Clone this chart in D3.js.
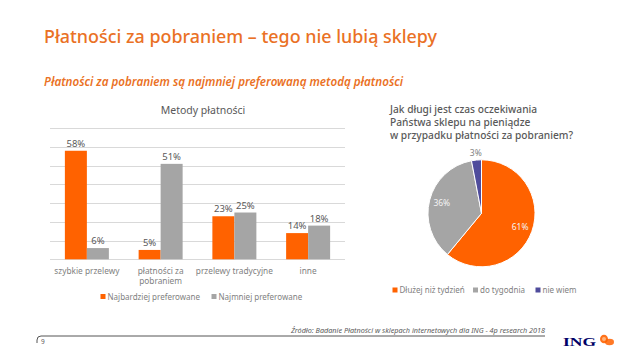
<!DOCTYPE html>
<html><head><meta charset="utf-8">
<script src="https://cdn.jsdelivr.net/npm/d3@7"></script>
<style>
html,body{margin:0;padding:0;background:#fff;}
svg{display:block;font-family:"Noto Sans","Open Sans",sans-serif;}
</style></head>
<body>
<svg id="c" width="638" height="359"></svg>
<script>
// ---- data ----
const mainTitle = "Płatności za pobraniem – tego nie lubią sklepy";
const subTitle = "Płatności za pobraniem są najmniej preferowaną metodą płatności";
const barTitle = "Metody płatności";
const categories = ["szybkie przelewy", "płatności za\npobraniem", "przelewy tradycyjne", "inne"];
const seriesNames = ["Najbardziej preferowane", "Najmniej preferowane"];
const mostPreferred = [58, 5, 23, 14];
const leastPreferred = [6, 51, 25, 18];
const yTicks = [0, 10, 20, 30, 40, 50, 60, 70];
const pieQuestion = ["Jak długi jest czas oczekiwania", "Państwa sklepu na pieniądze", "w przypadku płatności za pobraniem?"];
const pieLabels = ["Dłużej niż tydzień", "do tygodnia", "nie wiem"];
const pieValues = [61, 36, 3];
const sourceText = "Źródło: Badanie Płatności w sklepach internetowych dla ING - 4p research 2018";
const pageNumber = "9";

// ---- styles ----
const ORANGE = "#FF6200", GRAY = "#A5A5A5", NAVY = "#4F4C9C";
const TITLE_ORANGE = "#EA7125", TEXT = "#595959", LIGHT = "#7F7F7F";

const svg = d3.select("#c");

// titles
svg.append("text").attr("x", 44).attr("y", 43).attr("fill", TITLE_ORANGE)
  .attr("font-size", 18.5).attr("font-weight", 500)
  .attr("textLength", 393).attr("lengthAdjust", "spacingAndGlyphs").text(mainTitle);
svg.append("text").attr("x", 44).attr("y", 86).attr("fill", TITLE_ORANGE)
  .attr("font-size", 12.5).attr("font-style", "italic").attr("font-weight", 600)
  .attr("textLength", 359).attr("lengthAdjust", "spacingAndGlyphs").text(subTitle);

// ---- bar chart ----
const x0 = d3.scaleBand().domain(categories).range([50, 345]).padding(0);
const x1 = d3.scaleBand().domain(seriesNames).range([0, x0.bandwidth()]).paddingInner(0).paddingOuter(0.676);
const y = d3.scaleLinear().domain([0, 70]).range([259.3, 128.3]);
const colors = d3.scaleOrdinal().domain(seriesNames).range([ORANGE, GRAY]);

svg.append("text").attr("x", 203).attr("y", 114).attr("text-anchor", "middle")
  .attr("fill", TEXT).attr("font-size", 10.5).text(barTitle);

const grid = svg.append("g");
grid.selectAll("line").data(yTicks).join("line")
  .attr("x1", 50).attr("x2", 345)
  .attr("y1", d => Math.round(y(d)) + 0.5).attr("y2", d => Math.round(y(d)) + 0.5)
  .attr("stroke", "#D9D9D9").attr("stroke-width", 1);

const barData = categories.map((c, i) => ({ cat: c, vals: [
  { s: seriesNames[0], v: mostPreferred[i] },
  { s: seriesNames[1], v: leastPreferred[i] }] }));

const groups = svg.append("g").selectAll("g").data(barData).join("g")
  .attr("transform", d => `translate(${x0(d.cat)},0)`);
groups.selectAll("rect").data(d => d.vals).join("rect")
  .attr("x", d => x1(d.s)).attr("width", x1.bandwidth())
  .attr("y", d => y(d.v)).attr("height", d => y(0) - y(d.v))
  .attr("fill", d => colors(d.s));
groups.selectAll("text").data(d => d.vals).join("text")
  .attr("x", d => x1(d.s) + x1.bandwidth() / 2).attr("y", d => y(d.v) - 4)
  .attr("text-anchor", "middle").attr("fill", TEXT).attr("font-size", 9.5)
  .text(d => d.v + "%");

// category labels
const xAxisG = svg.append("g");
categories.forEach(c => {
  const t = xAxisG.append("text").attr("x", x0(c) + x0.bandwidth() / 2).attr("y", 273.5)
    .attr("text-anchor", "middle").attr("fill", LIGHT).attr("font-size", 8.3);
  c.split("\n").forEach((ln, j) => {
    t.append("tspan").attr("x", x0(c) + x0.bandwidth() / 2).attr("dy", j ? 10 : 0).text(ln);
  });
});

// bar legend
const legX = [100.5, 211.5];
seriesNames.forEach((s, i) => {
  svg.append("rect").attr("x", legX[i]).attr("y", 294).attr("width", 5).attr("height", 5).attr("fill", colors(s));
  svg.append("text").attr("x", legX[i] + 7).attr("y", 299.5).attr("fill", LIGHT).attr("font-size", 8).text(s);
});

// ---- pie ----
pieQuestion.forEach((ln, i) => {
  svg.append("text").attr("x", 390).attr("y", 112.5 + i * 13.3).attr("fill", TEXT)
    .attr("font-size", 10.2).attr("font-weight", 500).text(ln);
});
const pieColors = [ORANGE, GRAY, NAVY];
const R = 53.5, cx = 481.5, cy = 213.3;
const pie = d3.pie().sort(null).value(d => d);
const arcs = pie(pieValues);
const arc = d3.arc().innerRadius(0).outerRadius(R);
const pg = svg.append("g").attr("transform", `translate(${cx},${cy})`);
pg.selectAll("path").data(arcs).join("path").attr("d", arc)
  .attr("fill", (d, i) => pieColors[i]).attr("stroke", "#fff").attr("stroke-width", 1);
const labelArc = d3.arc().innerRadius(41).outerRadius(41);
pg.selectAll("text").data(arcs).join("text")
  .attr("transform", (d, i) => {
    if (i === 2) {
      const a = (d.startAngle + d.endAngle) / 2;
      return `translate(${Math.sin(a) * (R + 7)},${-Math.cos(a) * (R + 7)})`;
    }
    return `translate(${labelArc.centroid(d)})`;
  })
  .attr("dy", "0.35em").attr("text-anchor", "middle").attr("font-size", 8.5)
  .attr("fill", (d, i) => i === 2 ? LIGHT : "#F4F4F4")
  .text(d => d.data + "%");

const pLegX = [392.5, 473, 535.5];
pieLabels.forEach((l, i) => {
  svg.append("rect").attr("x", pLegX[i]).attr("y", 287.5).attr("width", 5).attr("height", 5).attr("fill", pieColors[i]);
  svg.append("text").attr("x", pLegX[i] + 7).attr("y", 293).attr("fill", LIGHT).attr("font-size", 8).text(l);
});

// ---- footer ----
svg.append("text").attr("x", 545).attr("y", 333).attr("text-anchor", "end")
  .attr("fill", TEXT).attr("font-size", 6.8).attr("font-style", "italic")
  .attr("textLength", 254).attr("lengthAdjust", "spacingAndGlyphs").text(sourceText);
svg.append("path").attr("d", "M37,343 L37,340 Q37,336 41,336 L545,336")
  .attr("fill", "none").attr("stroke", "#555").attr("stroke-width", 1);
svg.append("text").attr("x", 41).attr("y", 344).attr("fill", TEXT).attr("font-size", 6.5).text(pageNumber);

// ING logo
svg.append("text").attr("x", 563).attr("y", 345.5).attr("fill", "#000066")
  .attr("font-family", "'Liberation Serif','DejaVu Serif',serif").attr("font-weight", "bold")
  .attr("font-size", 12.5).attr("textLength", 33).attr("lengthAdjust", "spacingAndGlyphs").text("ING");
const lion = svg.append("g").attr("transform", "translate(606,340)").attr("fill", ORANGE);
lion.append("ellipse").attr("cx", -2).attr("cy", -1).attr("rx", 4).attr("ry", 4.3).attr("opacity", 0.9);
lion.append("ellipse").attr("cx", 3.5).attr("cy", 2).attr("rx", 4.5).attr("ry", 3.2).attr("opacity", 0.85);
lion.append("circle").attr("cx", -2).attr("cy", -1).attr("r", 2).attr("fill", "#FFB37A");
</script>
</body></html>
